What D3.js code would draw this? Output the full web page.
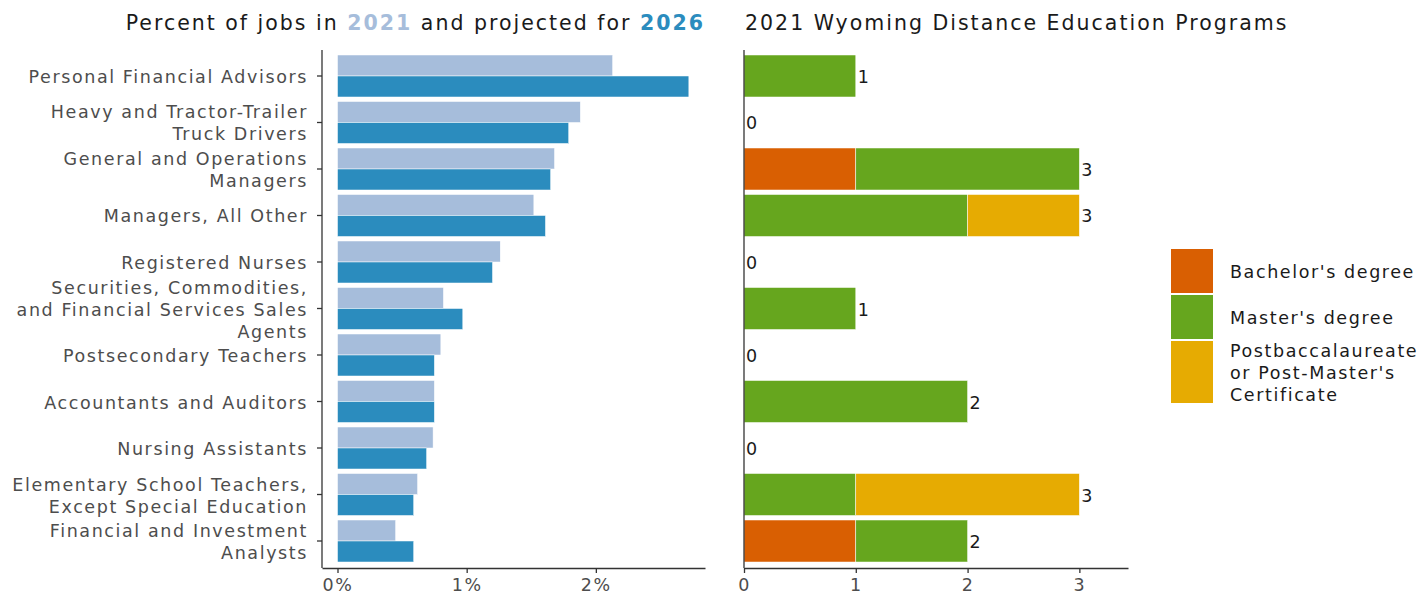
<!DOCTYPE html>
<html>
<head>
<meta charset="utf-8">
<script src="https://cdn.jsdelivr.net/npm/d3@7"></script>
<style>
  body { margin: 0; background: #fff; }
  svg { display: block; }
  text { font-family: "DejaVu Sans", sans-serif; }
</style>
</head>
<body>
<svg id="chart" width="1424" height="596"></svg>
<script>
// ---------- DATA ----------
const occupations = [
  "Personal Financial Advisors",
  "Heavy and Tractor-Trailer\nTruck Drivers",
  "General and Operations\nManagers",
  "Managers, All Other",
  "Registered Nurses",
  "Securities, Commodities,\nand Financial Services Sales\nAgents",
  "Postsecondary Teachers",
  "Accountants and Auditors",
  "Nursing Assistants",
  "Elementary School Teachers,\nExcept Special Education",
  "Financial and Investment\nAnalysts"
];
const years = ["2021", "2026"];
const pct2021 = [2.13, 1.88, 1.68, 1.52, 1.26, 0.82, 0.80, 0.75, 0.74, 0.62, 0.45];
const pct2026 = [2.72, 1.79, 1.65, 1.61, 1.20, 0.97, 0.75, 0.75, 0.69, 0.59, 0.59];
const pctTicks = [0, 1, 2];

const degreeTypes = ["Bachelor's degree", "Master's degree", "Postbaccalaureate\nor Post-Master's\nCertificate"];
const bachelors = [0, 0, 1, 0, 0, 0, 0, 0, 0, 0, 1];
const masters   = [1, 0, 2, 2, 0, 1, 0, 2, 0, 1, 1];
const postbacc  = [0, 0, 0, 1, 0, 0, 0, 0, 0, 2, 0];
const countTicks = [0, 1, 2, 3];

const yearColors = ["#a6bddb", "#2b8cbe"];
const degreeColors = ["#d95f02", "#66a61e", "#e6ab02"];

// ---------- LAYOUT ----------
const svg = d3.select("#chart");
const axisColor = "#333333";
const labelColor = "#4d4d4d";
const fs = 17.5;
const ls = 1.6;
const lh = 22;

const y = d3.scaleBand().domain(occupations).range([55, 562]).paddingInner(0.097).paddingOuter(0);
const yYear = d3.scaleBand().domain(years).range([0, y.bandwidth()]);

const xL = d3.scaleLinear().domain([-0.12, 2.845]).range([322, 705]);
const xR = d3.scaleLinear().domain([0, 3.435]).range([744, 1128]);
const axisY = 568;

function multiline(sel) {
  sel.each(function(d) {
    const t = d3.select(this);
    const lines = d.split("\n");
    t.text(null).attr("dy", null);
    const off = -(lines.length - 1) * lh / 2 + fs * 0.4;
    lines.forEach((ln, i) => {
      t.append("tspan").attr("x", t.attr("x")).attr("dy", i === 0 ? off : lh).text(ln);
    });
  });
}

// ---------- LEFT PANEL ----------
const left = svg.append("g");
const groups = left.selectAll("g.grp").data(occupations).join("g")
  .attr("transform", d => `translate(0,${y(d)})`);
groups.selectAll("rect").data((d, i) => [pct2021[i], pct2026[i]]).join("rect")
  .attr("x", xL(0))
  .attr("y", (v, j) => yYear(years[j]))
  .attr("width", v => xL(v) - xL(0))
  .attr("height", yYear.bandwidth())
  .attr("fill", (v, j) => yearColors[j])
  .attr("stroke", "#ffffff").attr("stroke-width", 0.5);

const yAxisL = left.append("g").attr("transform", `translate(${xL.range()[0]},0)`)
  .call(d3.axisLeft(y).tickSize(5).tickSizeOuter(0).tickPadding(9));
yAxisL.select(".domain").attr("d", `M0,50V${axisY}`);
yAxisL.selectAll(".tick text").call(multiline);

left.append("g").attr("transform", `translate(0,${axisY})`)
  .call(d3.axisBottom(xL).tickValues(pctTicks).tickFormat(d => d + "%").tickSize(5).tickSizeOuter(0).tickPadding(6));

// ---------- RIGHT PANEL ----------
const right = svg.append("g");
const stackData = occupations.map((o, i) => ({ o, b: bachelors[i], m: masters[i], p: postbacc[i] }));
const stack = d3.stack().keys(["b", "m", "p"])(stackData);
right.selectAll("g.layer").data(stack).join("g")
  .attr("fill", (d, i) => degreeColors[i])
  .selectAll("rect").data(d => d.filter(s => s[1] > s[0])).join("rect")
  .attr("x", s => xR(s[0]))
  .attr("y", s => y(s.data.o))
  .attr("width", s => xR(s[1]) - xR(s[0]))
  .attr("height", y.bandwidth())
  .attr("stroke", "#ffffff").attr("stroke-width", 0.5);

right.selectAll("text.total").data(stackData).join("text")
  .attr("class", "total")
  .attr("x", d => xR(d.b + d.m + d.p) + 2)
  .attr("y", d => y(d.o) + y.bandwidth() / 2)
  .attr("dy", "0.4em")
  .attr("font-size", fs)
  .attr("fill", "#1a1a1a")
  .text(d => d.b + d.m + d.p);

const yAxisR = right.append("g").attr("transform", `translate(${xR(0)},0)`)
  .call(d3.axisLeft(y).tickSize(0).tickFormat(""));
yAxisR.select(".domain").attr("d", `M0,50V${axisY}`);

right.append("g").attr("transform", `translate(0,${axisY})`)
  .call(d3.axisBottom(xR).tickValues(countTicks).tickFormat(d3.format("d")).tickSize(5).tickSizeOuter(0).tickPadding(6));

// axis styling
svg.selectAll(".domain").attr("stroke", axisColor).attr("stroke-width", 1.3);
svg.selectAll(".tick line").attr("stroke", axisColor).attr("stroke-width", 1.3);
svg.selectAll(".tick text").attr("fill", labelColor).attr("font-size", fs)
  .attr("font-family", "'DejaVu Sans', sans-serif").attr("letter-spacing", ls);

// ---------- TITLES ----------
const t1 = svg.append("text").attr("x", 705).attr("y", 30).attr("text-anchor", "end")
  .attr("font-size", 20.5).attr("letter-spacing", 2).attr("fill", "#1a1a1a");
t1.append("tspan").text("Percent of jobs in ");
t1.append("tspan").attr("fill", yearColors[0]).attr("font-weight", "bold").text(years[0]);
t1.append("tspan").text(" and projected for ");
t1.append("tspan").attr("fill", yearColors[1]).attr("font-weight", "bold").text(years[1]);

svg.append("text").attr("x", 745).attr("y", 30).attr("font-size", 20.5).attr("letter-spacing", 2)
  .attr("fill", "#1a1a1a")
  .text("2021 Wyoming Distance Education Programs");

// ---------- LEGEND ----------
const legKeyH = [44, 44, 62];
let ly = 249;
const leg = svg.append("g");
degreeTypes.forEach((d, i) => {
  leg.append("rect").attr("x", 1171).attr("y", ly).attr("width", 42).attr("height", legKeyH[i])
    .attr("fill", degreeColors[i]);
  const tx = leg.append("text").attr("x", 1230).attr("y", ly + legKeyH[i] / 2)
    .attr("font-size", fs).attr("letter-spacing", ls).attr("fill", "#1a1a1a");
  const lines = d.split("\n");
  const off = -(lines.length - 1) * lh / 2 + fs * 0.4;
  lines.forEach((ln, k) => tx.append("tspan").attr("x", 1230).attr("dy", k === 0 ? off : lh).text(ln));
  ly += legKeyH[i] + 2;
});
</script>
</body>
</html>
